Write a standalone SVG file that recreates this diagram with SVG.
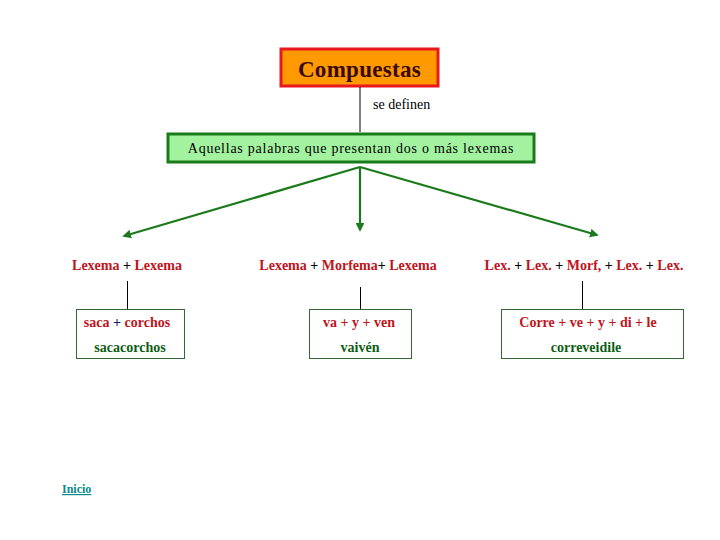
<svg xmlns="http://www.w3.org/2000/svg" width="720" height="540" viewBox="0 0 720 540">
<defs>
<style>
.t{font-family:"Liberation Serif","Times New Roman",serif}
.b{font-weight:bold;font-size:14px}
.red{fill:#c0141c}
.grn{fill:#0d5e14}
.pl{fill:#000}
.box{fill:#fff;stroke:#336633;stroke-width:1}
.ln{stroke:#000;stroke-width:1;fill:none}
.arr{stroke:#1b7a1b;stroke-width:2.2;fill:none;marker-end:url(#ah)}
</style>
<marker id="ah" viewBox="0 0 10 10" refX="8" refY="5" markerWidth="4" markerHeight="4" orient="auto">
<path d="M0,0 L10,5 L0,10 z" fill="#1b7a1b"/>
</marker>
</defs>
<rect width="720" height="540" fill="#fff"/>
<g id="compuestas">
<rect x="281" y="49" width="157" height="37" fill="#ff9900" stroke="#e8191e" stroke-width="3"/>
<text class="t" x="359.5" y="77" text-anchor="middle" font-size="23" font-weight="bold" fill="#3a0a0a" letter-spacing="0.3">Compuestas</text>
</g>
<g id="definicion">
<rect x="168" y="134" width="366" height="28" fill="#a3f2a0" stroke="#1b7a1b" stroke-width="3"/>
<text class="t" x="351" y="153" text-anchor="middle" font-size="14" fill="#000" letter-spacing="0.75">Aquellas palabras que presentan dos o más lexemas</text>
</g>
<g id="connectors">
<line class="ln" x1="360" y1="87" x2="360" y2="132"/>
<text class="t" x="373" y="109" font-size="14" fill="#000">se definen</text>
<line class="arr" x1="360" y1="167" x2="124" y2="236"/>
<line class="arr" x1="360" y1="167" x2="360" y2="230"/>
<line class="arr" x1="360" y1="167" x2="597" y2="235"/>
<line class="ln" x1="127.5" y1="281" x2="127.5" y2="309"/>
<line class="ln" x1="360.5" y1="287" x2="360.5" y2="309"/>
<line class="ln" x1="582.5" y1="281" x2="582.5" y2="309"/>
</g>
<g id="tipo1">
<text class="t b" x="127" y="270" text-anchor="middle"><tspan class="red">Lexema</tspan><tspan class="pl"> + </tspan><tspan class="red">Lexema</tspan></text>
</g>
<g id="tipo2">
<text class="t b" x="348" y="270" text-anchor="middle"><tspan class="red">Lexema</tspan><tspan class="pl"> + </tspan><tspan class="red">Morfema</tspan><tspan class="pl">+ </tspan><tspan class="red">Lexema</tspan></text>
</g>
<g id="tipo3">
<text class="t b" x="584" y="270" text-anchor="middle"><tspan class="red">Lex.</tspan><tspan class="pl"> + </tspan><tspan class="red">Lex.</tspan><tspan class="pl"> + </tspan><tspan class="red">Morf,</tspan><tspan class="pl"> + </tspan><tspan class="red">Lex.</tspan><tspan class="pl"> + </tspan><tspan class="red">Lex.</tspan></text>
</g>
<g id="ejemplo1">
<rect class="box" x="76.5" y="309.5" width="108" height="49"/>
<text class="t b" x="127" y="327" text-anchor="middle"><tspan class="red">saca</tspan><tspan fill="#1a1a66"> + </tspan><tspan class="red">corchos</tspan></text>
<text class="t b grn" x="130" y="352" text-anchor="middle">sacacorchos</text>
</g>
<g id="ejemplo2">
<rect class="box" x="309.5" y="309.5" width="102" height="49"/>
<text class="t b red" x="359" y="327" text-anchor="middle">va + y + ven</text>
<text class="t b grn" x="360" y="352" text-anchor="middle">vaivén</text>
</g>
<g id="ejemplo3">
<rect class="box" x="501.5" y="309.5" width="182" height="49"/>
<text class="t b red" x="588" y="327" text-anchor="middle">Corre + ve + y + di + le</text>
<text class="t b grn" x="586" y="352" text-anchor="middle">correveidile</text>
</g>
<g id="inicio">
<text class="t" x="62" y="493" font-size="12" font-weight="bold" fill="#0a8a8a" text-decoration="underline">Inicio</text>
</g>
</svg>
